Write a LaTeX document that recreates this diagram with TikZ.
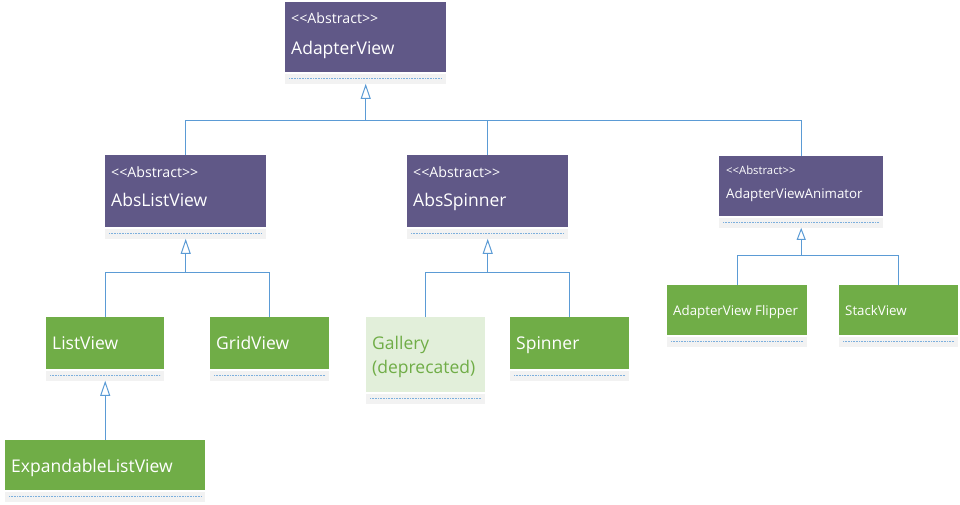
\documentclass[tikz,border=0pt]{standalone}
\usepackage{fontspec}
\setmainfont{Open Sans}
\usetikzlibrary{positioning, arrows.meta, calc}
\definecolor{AbstractColor}{RGB}{96,88,135}
\definecolor{ClassColor}{RGB}{112,173,71}
\definecolor{DeprecatedColor}{RGB}{226,239,218}
\definecolor{LinkColor}{RGB}{91,155,213}
\definecolor{StripColor}{RGB}{242,242,242}
\newcommand{\stereotype}{<\kern0pt<Abstract>\kern0pt>}
\newcommand{\bigfont}{\fontsize{17.5}{24}\selectfont}
\newcommand{\midfont}{\fontsize{14.2}{16}\selectfont}
\newcommand{\smallfont}{\fontsize{13.3}{16}\selectfont}
\newcommand{\tinyfont}{\fontsize{11.3}{13}\selectfont}
\tikzset{
  abstract/.style={fill=AbstractColor, anchor=north west, inner sep=0pt},
  concrete/.style={fill=ClassColor, anchor=north west, inner sep=0pt},
  deprecated/.style={fill=DeprecatedColor, anchor=north west, inner sep=0pt},
  strip/.style={fill=StripColor, anchor=north west, inner sep=0pt, minimum height=10pt},
  dots/.style={LinkColor!80, line width=0.7pt, dash pattern=on 0.8pt off 0.8pt},
  label/.style={anchor=base west, inner sep=0pt, text=white},
  link/.style={LinkColor, line width=1pt},
  inherit/.style={link, -{Triangle[open, length=15pt, width=10pt, line width=1pt]}},
  small inherit/.style={link, -{Triangle[open, length=12pt, width=9pt, line width=1pt]}}
}
% box with its empty compartment below
\newcommand{\classbox}[6]{%
  \node[#2, minimum width=#5pt, minimum height=#6pt] (#1) at (#3,#4) {};
  \node[strip, minimum width=#5pt] (#1-s) at ([yshift=-1pt]#1.south west) {};
  \draw[dots] ([xshift=4pt]#1-s.west) -- ([xshift=-4pt]#1-s.east);
}

\begin{document}
\begin{tikzpicture}[x=1pt, y=-1pt]
  \useasboundingbox (0,0) rectangle (960,504);

  % Abstract classes
  \classbox{av}{abstract}{285}{2}{161}{70}
  \classbox{alv}{abstract}{105}{155}{161}{72}
  \classbox{asp}{abstract}{407}{155}{161}{72}
  \classbox{ava}{abstract}{719}{156}{164}{60}

  \node[label, font=\midfont] (av-st) at ([shift={(6,21)}]av.north west) {\stereotype};
  \node[label, font=\bigfont] (av-n) at ([shift={(6,52)}]av.north west) {AdapterView};
  \node[label, font=\midfont] (alv-st) at ([shift={(6,22)}]alv.north west) {\stereotype};
  \node[label, font=\bigfont] (alv-n) at ([shift={(6,51)}]alv.north west) {AbsListView};
  \node[label, font=\midfont] (asp-st) at ([shift={(6,22)}]asp.north west) {\stereotype};
  \node[label, font=\bigfont] (asp-n) at ([shift={(6,51)}]asp.north west) {AbsSpinner};
  \node[label, font=\tinyfont] (ava-st) at ([shift={(7,18)}]ava.north west) {\stereotype};
  \node[label, font=\smallfont] (ava-n) at ([shift={(7,42)}]ava.north west) {AdapterViewAnimator};

  % Concrete classes
  \classbox{lv}{concrete}{46}{317}{118}{52}
  \classbox{gv}{concrete}{210}{317}{119}{52}
  \classbox{gal}{deprecated}{366}{317}{119}{75}
  \classbox{spn}{concrete}{510}{317}{119}{52}
  \classbox{avf}{concrete}{667}{285}{140}{50}
  \classbox{stv}{concrete}{839}{285}{119}{50}
  \classbox{elv}{concrete}{5}{440}{200}{50}

  \node[label, font=\bigfont] (lv-n) at ([shift={(6,32)}]lv.north west) {ListView};
  \node[label, font=\bigfont] (gv-n) at ([shift={(6,32)}]gv.north west) {GridView};
  \node[label, font=\bigfont, text=ClassColor, align=left, anchor=north west]
    (gal-n) at ([shift={(6,19)}]gal.north west) {Gallery\\(deprecated)};
  \node[label, font=\bigfont] (spn-n) at ([shift={(6,32)}]spn.north west) {Spinner};
  \node[label, font=\smallfont] (avf-n) at ([shift={(6,30)}]avf.north west) {AdapterView Flipper};
  \node[label, font=\smallfont] (stv-n) at ([shift={(6,30)}]stv.north west) {StackView};
  \node[label, font=\bigfont] (elv-n) at ([shift={(6,32)}]elv.north west) {ExpandableListView};

  % Inheritance
  \coordinate (av-bus) at (av-s.south |- 0,120);
  \coordinate (alv-bus) at (alv-s.south |- 0,272);
  \coordinate (asp-bus) at (asp-s.south |- 0,272);
  \coordinate (ava-bus) at (ava-s.south |- 0,255);

  \draw[inherit] (av-bus) -- (av-s.south);
  \draw[link] (alv.north) |- (av-bus);
  \draw[link] (asp.north) |- (av-bus);
  \draw[link] (ava.north) |- (av-bus);

  \draw[inherit] (alv-bus) -- (alv-s.south);
  \draw[link] (lv.north) |- (alv-bus);
  \draw[link] (gv.north) |- (alv-bus);

  \draw[inherit] (asp-bus) -- (asp-s.south);
  \draw[link] (gal.north) |- (asp-bus);
  \draw[link] (spn.north) |- (asp-bus);

  \draw[small inherit] (ava-bus) -- (ava-s.south);
  \draw[link] (avf.north) |- (ava-bus);
  \draw[link] (stv.north) |- (ava-bus);

  \draw[inherit] (elv.north) -- (lv-s.south);
\end{tikzpicture}
\end{document}
